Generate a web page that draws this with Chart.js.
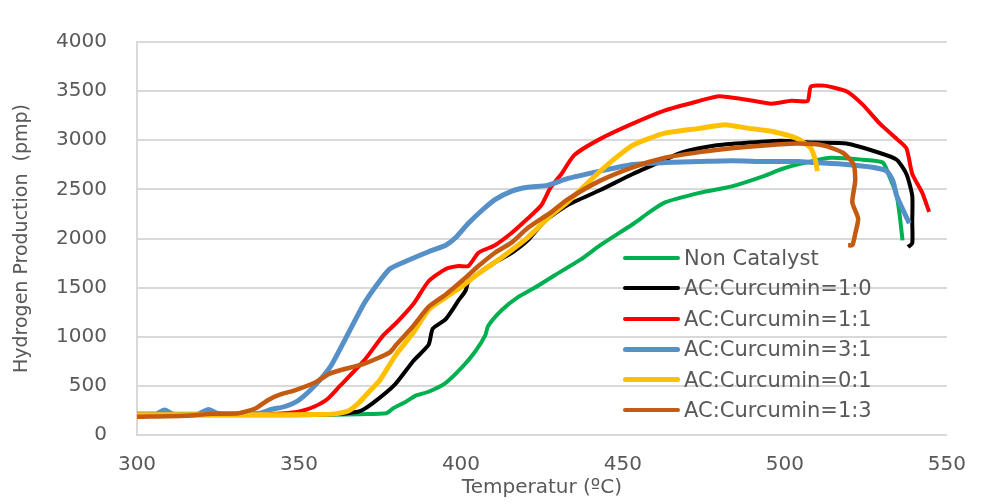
<!DOCTYPE html>
<html>
<head>
<meta charset="utf-8">
<script src="https://cdn.jsdelivr.net/npm/chart.js@4.4.1/dist/chart.umd.min.js"></script>
<style>
  body { margin: 0; background: #fff; }
  #wrap { position: relative; width: 984px; height: 504px; }
  #legend { position: absolute; left: 623px; top: 0; font-family: "DejaVu Sans", sans-serif; font-size: 21px; color: #595959; }
  .row { position: absolute; left: 0; height: 30px; display: flex; align-items: center; white-space: nowrap; }
  .swatch { display: inline-block; width: 57px; border-radius: 3px; margin-right: 4px; }
</style>
</head>
<body>
<div id="wrap">
  <canvas id="chart" width="984" height="504"></canvas>
  <div id="legend"></div>
</div>
<script>
// temperature (x) and hydrogen production (y)
const nonCatalystT = [300, 320, 340, 360, 369, 377, 379, 383, 386, 390, 395.3, 400.5, 404.4, 407.5, 408.4, 412.7, 417.5, 422.7, 428.8, 437, 443, 453, 458.3, 463, 473.6, 483.6, 493.7, 498.8, 504, 514, 524, 530.2, 532.3, 534.5, 535.4, 536.3];
const nonCatalystH = [200, 200, 200, 205, 212, 222, 270, 338, 400, 440, 531, 695, 850, 1014, 1111, 1275, 1401, 1498, 1623, 1787, 1932, 2145, 2271, 2367, 2464, 2531, 2638, 2705, 2754, 2822, 2802, 2773, 2628, 2435, 2242, 1981];

const ratio10T = [300, 340, 360, 365, 368.8, 373, 379.5, 385.3, 390, 391.3, 395.3, 399.3, 401.4, 402.3, 404.4, 410.5, 415.7, 420.6, 425.8, 432.8, 443, 453, 463, 468.4, 478.4, 488.8, 498.8, 509, 519, 529.3, 534.5, 537.5, 539.3, 539.3, 539.3, 538];
const ratio10H = [205, 205, 210, 222, 242, 330, 510, 754, 918, 1082, 1179, 1372, 1468, 1565, 1623, 1758, 1855, 1981, 2174, 2338, 2493, 2657, 2802, 2879, 2947, 2976, 2995, 2976, 2966, 2870, 2802, 2657, 2435, 2174, 1952, 1913];

const ratio11T = [300, 340, 346.6, 350.5, 354.8, 358.8, 362.7, 370, 376, 380, 385.3, 390, 395.3, 399.3, 402.3, 405.4, 410.5, 415.7, 420.6, 424.8, 427.5, 431, 435, 443, 453, 463, 473.6, 479.7, 488.8, 495.8, 501.9, 507, 508, 512, 519, 524, 529.3, 534.5, 537.5, 539.3, 542.4, 544.5];
const ratio11H = [205, 215, 225, 242, 290, 367, 502, 754, 1014, 1140, 1333, 1565, 1690, 1720, 1720, 1855, 1932, 2058, 2203, 2338, 2510, 2657, 2850, 3014, 3169, 3304, 3401, 3449, 3410, 3372, 3401, 3401, 3546, 3556, 3498, 3362, 3169, 3014, 2918, 2657, 2464, 2271];

const ratio31T = [300, 306, 308.5, 311, 319, 322, 325, 338, 341.4, 345.7, 350, 354.8, 359.7, 364.9, 370, 374, 378, 383, 390, 395.3, 398.4, 402.3, 406.6, 410.5, 415.7, 420.6, 426.7, 432.8, 443, 453, 463, 473.6, 483.6, 493.7, 504, 509, 519, 527, 531.4, 533.3, 534.5, 536.3, 538.4];
const ratio31H = [215, 215, 254, 215, 215, 260, 218, 222, 260, 290, 357, 500, 695, 1014, 1333, 1527, 1690, 1768, 1865, 1932, 2010, 2155, 2290, 2396, 2483, 2522, 2541, 2609, 2686, 2754, 2773, 2783, 2792, 2783, 2783, 2773, 2754, 2725, 2686, 2589, 2435, 2300, 2155];

const ratio01T = [300, 340, 355, 361, 365.5, 368.8, 370.5, 375, 380, 385.3, 390, 395.3, 400.5, 405.4, 410.5, 415.7, 420.6, 428, 432.8, 443, 453, 463, 473.6, 481.5, 488.8, 495.8, 504, 508, 509.5, 510];
const ratio01H = [205, 205, 208, 215, 250, 338, 400, 560, 821, 1043, 1275, 1401, 1517, 1643, 1758, 1884, 2010, 2242, 2367, 2686, 2947, 3072, 3121, 3159, 3121, 3092, 3014, 2918, 2783, 2686];

const ratio13T = [300, 315, 323, 331.4, 336.5, 340.5, 344.5, 348.7, 354.8, 359.7, 370, 378, 380, 385.3, 390, 395.3, 400.5, 405.4, 410.5, 415.7, 420.6, 428, 432.8, 443, 453, 463, 473.6, 483.6, 493.7, 504, 512, 518, 521.2, 521.7, 520.8, 522.6, 521.7, 520.8, 519.5];
const ratio13H = [185, 195, 215, 222, 270, 357, 415, 454, 531, 628, 725, 840, 918, 1111, 1304, 1430, 1575, 1720, 1855, 1961, 2106, 2271, 2396, 2589, 2725, 2822, 2879, 2918, 2947, 2966, 2947, 2870, 2754, 2589, 2367, 2203, 2048, 1932, 1932];

const seriesLabels = ["Non Catalyst", "AC:Curcumin=1:0", "AC:Curcumin=1:1", "AC:Curcumin=3:1", "AC:Curcumin=0:1", "AC:Curcumin=1:3"];
const seriesColors = ["#00B050", "#000000", "#FF0000", "#5590C8", "#FFC000", "#C55A11"];
const seriesWidths = [4, 4, 4, 5, 5, 4.5];
const seriesT = [nonCatalystT, ratio10T, ratio11T, ratio31T, ratio01T, ratio13T];
const seriesH = [nonCatalystH, ratio10H, ratio11H, ratio31H, ratio01H, ratio13H];

const xTicks = [300, 350, 400, 450, 500, 550];
const yTicks = [0, 500, 1000, 1500, 2000, 2500, 3000, 3500, 4000];

const textColor = "#595959";
const gridColor = "#D9D9D9";

const datasets = seriesLabels.map((label, i) => ({
  label,
  data: seriesT[i].map((t, k) => ({ x: t, y: seriesH[i][k] })),
  borderColor: seriesColors[i],
  backgroundColor: seriesColors[i],
  borderWidth: seriesWidths[i],
  pointRadius: 0,
  tension: 0.2,
  fill: false,
  order: seriesLabels.length - i  // later series on top, like the original
}));

new Chart(document.getElementById("chart").getContext("2d"), {
  type: "line",
  data: { datasets },
  options: {
    responsive: false,
    animation: false,
    layout: { padding: { left: 0, top: 21, right: 27, bottom: 0 } },
    plugins: { legend: { display: false }, tooltip: { enabled: false } },
    scales: {
      x: {
        type: "linear",
        min: xTicks[0],
        max: xTicks[xTicks.length - 1],
        afterBuildTicks: s => { s.ticks = xTicks.map(v => ({ value: v })); },
        afterFit: s => { s.height = 69; },
        grid: { display: false, drawTicks: false },
        border: { display: true, color: gridColor, width: 2 },
        ticks: { padding: 18, color: textColor, font: { family: "DejaVu Sans", size: 20 }, maxRotation: 0, callback: v => String(v) },
        title: {
          display: true,
          text: "Temperatur (ºC)",
          color: textColor,
          font: { family: "DejaVu Sans", size: 20 },
          padding: { top: 0, bottom: 4 }
        }
      },
      y: {
        min: yTicks[0],
        max: yTicks[yTicks.length - 1],
        afterBuildTicks: s => { s.ticks = yTicks.map(v => ({ value: v })); },
        afterFit: s => { s.width = 137; },
        grid: { color: gridColor, lineWidth: 2, drawTicks: false },
        border: { display: true, color: gridColor, width: 2 },
        ticks: { padding: 30, color: textColor, font: { family: "DejaVu Sans", size: 20 }, callback: v => String(v) },
        title: {
          display: true,
          text: "Hydrogen Production  (pmp)",
          color: textColor,
          font: { family: "DejaVu Sans", size: 19 },
          padding: { top: 11, bottom: 0 }
        }
      }
    }
  }
});

// legend drawn over the plot, without a box
const legend = document.getElementById("legend");
seriesLabels.forEach((label, i) => {
  const row = document.createElement("div");
  row.className = "row";
  row.style.top = (243 + i * 30.4) + "px";
  const sw = document.createElement("span");
  sw.className = "swatch";
  sw.style.height = seriesWidths[i] + "px";
  sw.style.background = seriesColors[i];
  row.appendChild(sw);
  row.appendChild(document.createTextNode(label));
  legend.appendChild(row);
});
</script>
</body>
</html>
